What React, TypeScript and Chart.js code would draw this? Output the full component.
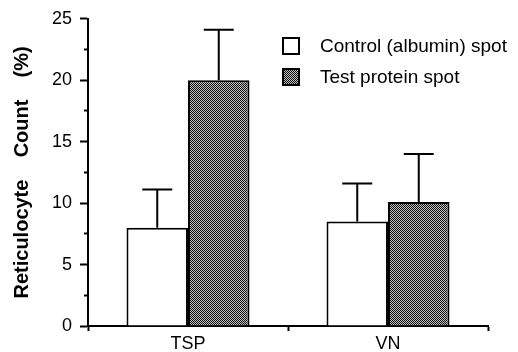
import React, { useEffect, useRef } from "react";
import { Chart, registerables } from "chart.js";

Chart.register(...registerables);

const categories = ["TSP", "VN"];
const controlLabel = "Control (albumin) spot";
const testLabel = "Test protein spot";
const controlValues = [8.0, 8.5];
const controlErrors = [3.1, 3.1];
const testValues = [20.0, 10.1];
const testErrors = [4.1, 3.9];
const yTickMax = 25;
const yMajorStep = 5;
const yMinorStep = 2.5;
const yTitle = "Reticulocyte    Count    (%)";

const FONT = "'Liberation Sans', Arial, Helvetica, sans-serif";

function makePattern(): CanvasPattern | string {
  const c = document.createElement("canvas");
  c.width = 2;
  c.height = 2;
  const g = c.getContext("2d");
  if (!g) return "#555";
  g.fillStyle = "#c0c0c0";
  g.fillRect(0, 0, 2, 2);
  g.fillStyle = "#111";
  g.fillRect(0, 0, 1, 1);
  g.fillRect(1, 1, 1, 1);
  const p = g.createPattern(c, "repeat");
  return p || "#555";
}

const errorBarPlugin = {
  id: "errorBars",
  afterDatasetsDraw(chart: any) {
    const ctx = chart.ctx;
    const yScale = chart.scales.y;
    chart.data.datasets.forEach((ds: any, di: number) => {
      const meta = chart.getDatasetMeta(di);
      const errs: number[] = ds.errors || [];
      meta.data.forEach((el: any, i: number) => {
        const v = ds.data[i];
        const e = errs[i];
        if (e == null) return;
        const x = el.x;
        const yTop = el.y;
        const yErr = yScale.getPixelForValue(v + e);
        ctx.save();
        ctx.strokeStyle = "#000";
        ctx.lineWidth = 2;
        ctx.beginPath();
        ctx.moveTo(x, yTop);
        ctx.lineTo(x, yErr);
        ctx.moveTo(x - 15, yErr);
        ctx.lineTo(x + 15, yErr);
        ctx.stroke();
        ctx.restore();
      });
    });
  },
};

const legendPlugin = {
  id: "insideLegend",
  afterDraw(chart: any) {
    const ctx = chart.ctx;
    const x0 = 282;
    const ys = [37, 68];
    ctx.save();
    chart.data.datasets.forEach((ds: any, i: number) => {
      const y = ys[i];
      ctx.fillStyle = ds.backgroundColor;
      ctx.fillRect(x0, y, 18, 18);
      ctx.strokeStyle = "#000";
      ctx.lineWidth = 2;
      ctx.strokeRect(x0 + 1, y + 1, 16, 16);
      ctx.fillStyle = "#000";
      ctx.font = `19px ${FONT}`;
      ctx.textBaseline = "middle";
      ctx.textAlign = "left";
      ctx.fillText(ds.label, 320, y + 10);
    });
    ctx.restore();
  },
};

export default function App() {
  const ref = useRef<HTMLCanvasElement | null>(null);

  useEffect(() => {
    document.body.style.margin = "0";
    const canvas = ref.current;
    if (!canvas) return;
    const pattern = makePattern();
    const chart = new Chart(canvas, {
      type: "bar",
      data: {
        labels: categories,
        datasets: [
          {
            label: controlLabel,
            data: controlValues,
            errors: controlErrors,
            backgroundColor: "#ffffff",
            borderColor: "#000000",
            borderWidth: 2,
            borderSkipped: "bottom",
          } as any,
          {
            label: testLabel,
            data: testValues,
            errors: testErrors,
            backgroundColor: pattern,
            borderColor: "#000000",
            borderWidth: 2,
            borderSkipped: "bottom",
          } as any,
        ],
      },
      options: {
        responsive: false,
        animation: false,
        layout: { padding: { top: 15, right: 30, left: 0, bottom: 0 } },
        datasets: {
          bar: { categoryPercentage: 0.615, barPercentage: 1 },
        },
        plugins: {
          legend: { display: false },
          tooltip: { enabled: false },
        },
        scales: {
          x: {
            type: "category",
            offset: true,
            grid: {
              offset: true,
              drawOnChartArea: false,
              drawTicks: true,
              tickLength: 5,
              tickWidth: 2,
              tickColor: "#000",
            },
            border: { display: true, color: "#000", width: 2 },
            ticks: {
              color: "#000",
              font: { family: FONT, size: 18 },
              padding: 2,
            },
            afterFit(scale: any) {
              scale.height = 26;
            },
          },
          y: {
            min: 0,
            max: yTickMax,
            afterBuildTicks(scale: any) {
              const t: any[] = [];
              for (let v = 0; v <= yTickMax + 1e-9; v += yMinorStep) t.push({ value: v });
              scale.ticks = t;
            },
            grid: {
              drawOnChartArea: false,
              drawTicks: true,
              tickLength: 8,
              tickWidth: 2,
              tickColor: "#000",
              tickBorderDash: (c: any) =>
                c.tick && c.tick.value % yMajorStep !== 0 ? [0, 4, 5, 100] : [],
              tickBorderDashOffset: 0,
            } as any,
            border: { display: true, color: "#000", width: 2 },
            ticks: {
              autoSkip: false,
              color: "#000",
              padding: 8,
              font: { family: FONT, size: 18 },
              callback: (v: any) => (Number(v) % yMajorStep === 0 ? String(v) : ""),
            },
            title: {
              display: true,
              text: yTitle,
              color: "#000",
              font: { family: FONT, size: 20, weight: "bold" },
              padding: { top: 10, bottom: 0 },
            },
            afterFit(scale: any) {
              scale.width = 88;
            },
          },
        },
      },
      plugins: [errorBarPlugin, legendPlugin],
    } as any);
    return () => chart.destroy();
  }, []);

  return (
    <div style={{ position: "fixed", left: 0, top: 0, width: 518, height: 352 }}>
      <canvas ref={ref} width={518} height={352} style={{ display: "block" }} />
    </div>
  );
}
